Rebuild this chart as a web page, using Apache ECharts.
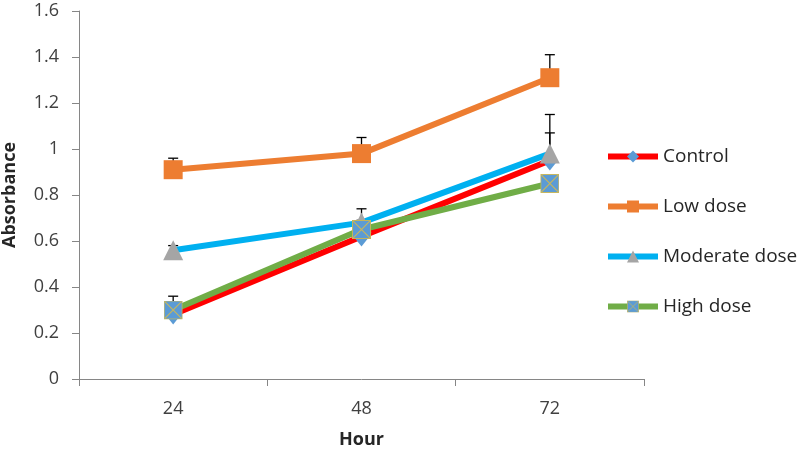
<!DOCTYPE html>
<html><head><meta charset="utf-8">
<script src="https://cdn.jsdelivr.net/npm/echarts@6/dist/echarts.min.js"></script>
<style>html,body{margin:0;padding:0;background:#fff}#c{width:798px;height:454px}</style>
</head><body><div id="c"></div>
<script>
var categories = ['24', '48', '72'];
var seriesNames = ['Control', 'Low dose', 'Moderate dose', 'High dose'];
var control = [0.28, 0.62, 0.95];
var lowDose = [0.91, 0.98, 1.31];
var moderateDose = [0.56, 0.68, 0.98];
var highDose = [0.30, 0.65, 0.85];
var controlErr = [0.03, 0.03, 0.12];
var lowDoseErr = [0.05, 0.07, 0.10];
var moderateDoseErr = [0.02, 0.06, 0.17];
var highDoseErr = [0.06, 0.04, 0.02];
var yTicks = { min: 0, max: 1.6, interval: 0.2 };

var FONT = 'Open Sans';
var hdSvg = '<svg xmlns="http://www.w3.org/2000/svg" width="20" height="20" viewBox="0 0 20 20">' +
  '<rect x="0.5" y="0.5" width="19" height="19" fill="#5B9BD5" stroke="#C8B65A" stroke-width="1"/>' +
  '<path d="M1 1 L19 19 M19 1 L1 19" stroke="#C8B65A" stroke-width="1.2"/></svg>';
var hdSymbol = 'image://data:image/svg+xml;charset=utf-8,' + encodeURIComponent(hdSvg);

var lineColors = ['#FF0000', '#ED7D31', '#00B0F0', '#70AD47'];
var markerColors = ['#5B9BD5', '#ED7D31', '#A5A5A5', '#5B9BD5'];
var symbols = ['diamond', 'rect', 'triangle', hdSymbol];
var symbolSizes = [[16, 20], 19, [20, 20], 19];
var datas = [control, lowDose, moderateDose, highDose];
var errs = [controlErr, lowDoseErr, moderateDoseErr, highDoseErr];

var series = [];
datas.forEach(function (d, si) {
  series.push({
    type: 'custom',
    name: seriesNames[si] + ' err',
    silent: true,
    z: 1,
    data: d.map(function (v, i) { return [i, v, v + errs[si][i]]; }),
    renderItem: function (params, api) {
      var p0 = api.coord([api.value(0), api.value(1)]);
      var p1 = api.coord([api.value(0), api.value(2)]);
      var w = 5;
      return {
        type: 'group',
        children: [
          { type: 'line', shape: { x1: p0[0], y1: p0[1], x2: p1[0], y2: p1[1] }, style: { stroke: '#000', lineWidth: 1.3 } },
          { type: 'line', shape: { x1: p1[0] - w, y1: p1[1], x2: p1[0] + w, y2: p1[1] }, style: { stroke: '#000', lineWidth: 1.3 } }
        ]
      };
    }
  });
});
datas.forEach(function (d, si) {
  series.push({
    type: 'line',
    name: seriesNames[si],
    data: d,
    z: 2 + si,
    symbol: symbols[si],
    symbolSize: symbolSizes[si],
    showAllSymbol: true,
    lineStyle: { color: lineColors[si], width: 6 },
    itemStyle: { color: markerColors[si], borderWidth: 0 },
    emphasis: { disabled: true },
    animation: false
  });
});

var chart = echarts.init(document.getElementById('c'), null, { renderer: 'canvas' });
chart.setOption({
  animation: false,
  backgroundColor: '#fff',
  grid: { left: 79, right: 154, top: 11, bottom: 75, containLabel: false, outerBoundsMode: 'none' },
  legend: {
    orient: 'vertical',
    left: 600,
    top: 142,
    data: seriesNames,
    itemWidth: 50,
    itemHeight: 15,
    itemGap: 31,
    lineStyle: { width: 6 },
    textStyle: { fontFamily: FONT, fontSize: 19, lineHeight: 19, color: '#262626' },
    selectedMode: false
  },
  xAxis: {
    type: 'category',
    data: categories,
    boundaryGap: true,
    name: 'Hour',
    nameLocation: 'middle',
    nameGap: 52,
    nameTextStyle: { fontFamily: FONT, fontSize: 18, fontWeight: 'bold', color: '#262626' },
    axisLine: { show: true, lineStyle: { color: '#868686', width: 1 } },
    axisTick: { show: true, length: 7, alignWithLabel: false, lineStyle: { color: '#868686' } },
    axisLabel: { fontFamily: FONT, fontSize: 18, color: '#404040', margin: 21 },
    splitLine: { show: false }
  },
  yAxis: {
    type: 'value',
    min: yTicks.min,
    max: yTicks.max,
    interval: yTicks.interval,
    name: 'Absorbance',
    nameLocation: 'middle',
    nameGap: 60,
    nameTextStyle: { fontFamily: FONT, fontSize: 18, fontWeight: 'bold', color: '#262626' },
    axisLine: { show: true, lineStyle: { color: '#868686', width: 1 } },
    axisTick: { show: true, length: 7, lineStyle: { color: '#868686' } },
    axisLabel: { fontFamily: FONT, fontSize: 18, color: '#404040', margin: 20 },
    splitLine: { show: false }
  },
  series: series
});
</script></body></html>
